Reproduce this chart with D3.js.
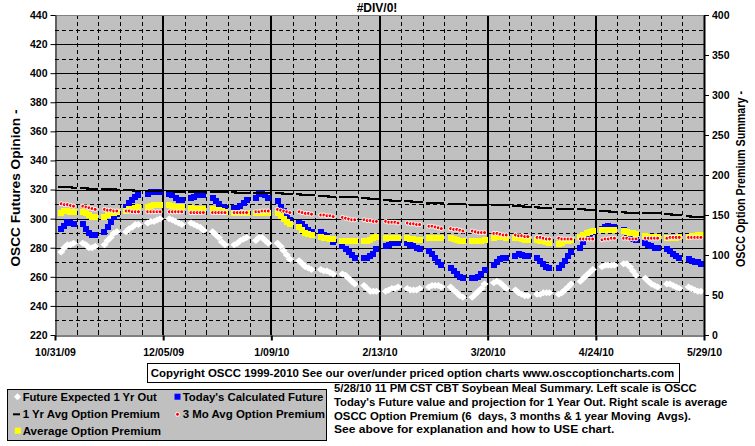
<!DOCTYPE html>
<html><head><meta charset="utf-8">
<script src="https://cdn.jsdelivr.net/npm/d3@7"></script>
<style>
body{margin:0;background:#fff}
svg{display:block}
text{font-family:Arial,"Liberation Sans",sans-serif;font-weight:bold;fill:#000}
</style>
</head><body>
<svg id="c" width="755" height="446"></svg>
<script>
// ---------- data ----------
const title = "#DIV/0!";
const xTickLabels = ["10/31/09","12/05/09","1/09/10","2/13/10","3/20/10","4/24/10","5/29/10"];
const leftTicks = [220,240,260,280,300,320,340,360,380,400,420,440];
const rightTicks = [0,50,100,150,200,250,300,350,400];
const leftTitle = "OSCC Futures Opinion -";
const rightTitle = "OSCC Option Premium Summary -";
const firstTradingDay = "11/02/09"; // Monday; trading days Mon-Fri, one row per week below

// Future Expected 1 Yr Out (left scale)
const futureExpected = [
 277,280,282,282,283, 283,282,280,280,281, 282,285,287,290,291, 291,293,294,296,296,
 297,298,298,299,300, 300,299,298,297,296, 297,296,295,294,292, 291,289,287,284,282,
 282,283,285,286,287, 285,287,287,285,283, 283,281,278,275,272, 271,269,267,266,265,
 265,264,264,263,262, 262,261,259,257,255, 254,252,250,250,250, 250,251,252,252,253,
 252,251,251,251,252, 253,254,254,254,253, 253,251,249,247,246, 246,248,250,252,255,
 256,257,256,254,252, 251,249,248,247,247, 248,248,249,249,249, 248,249,251,253,255,
 257,259,261,263,265, 267,268,268,268,268, 269,269,267,264,261, 259,257,255,254,253,
 255,255,254,253,252, 253,252,251,250,250
];
// Today's Calculated Future (left scale)
const todaysFuture = [
 293,295,298,297,296, 296,293,290,289,289, 291,294,298,301,303, 308,311,313,315,316,
 317,318,318,318,318, 317,316,314,313,313, 314,315,316,316,316, 314,312,310,308,307,
 307,307,309,311,313, 314,317,317,316,314, 312,308,305,302,299, 297,296,294,292,291,
 291,289,288,286,284, 281,279,277,275,273, 273,273,274,276,279, 281,282,283,283,283,
 283,282,281,280,279, 278,276,273,270,268, 266,264,262,260,259, 259,259,260,262,265,
 268,270,272,273,273, 274,276,275,274,274, 273,271,269,267,266, 266,268,271,274,277,
 280,284,287,289,291, 293,294,295,294,294, 292,290,288,286,285, 283,282,281,280,280,
 279,278,276,274,273, 272,271,270,270,269
];
// 1 Yr Avg Option Premium (right scale)
const oneYrAvg = [
 185,185,185,185,184, 184,184,183,183,183, 182,182,182,182,181, 181,181,181,180,180,
 180,180,180,180,180, 180,180,179,179,179, 179,179,179,179,179, 179,179,179,179,179,
 179,178,178,177,177, 177,177,177,177,177, 177,177,176,176,176, 176,175,175,175,175,
 174,174,174,173,173, 173,173,172,172,172, 171,171,170,170,170, 169,169,168,168,168,
 167,167,166,166,166, 165,165,165,165,165, 164,164,164,164,164, 163,163,163,163,163,
 162,162,162,162,162, 161,161,161,160,160, 160,159,159,159,159, 158,158,158,158,157,
 157,157,156,156,156, 155,155,155,154,154, 154,153,153,153,153, 152,152,152,152,152,
 151,151,150,150,150, 149,148,148,147,147
];
// 3 Mo Avg Option Premium (right scale)
const threeMoAvg = [
 164,163,163,162,161, 161,160,159,158,157, 157,156,156,155,155, 155,155,154,154,154,
 154,154,154,154,154, 154,154,154,154,154, 153,153,153,153,153, 153,153,153,153,153,
 153,153,153,153,153, 154,154,155,155,155, 157,156,155,154,153, 154,153,152,152,151,
 150,150,149,149,148, 147,146,145,144,144, 144,143,143,142,142, 142,141,141,141,140,
 140,139,139,138,138, 136,136,135,134,133, 133,132,132,131,130, 130,129,128,128,128,
 127,127,126,125,125, 125,124,124,123,123, 122,122,121,120,120, 121,120,120,120,120,
 120,120,120,120,120, 119,120,120,121,121, 121,121,120,120,120, 121,121,121,121,121,
 121,122,122,122,122, 122,122,122,122,122
];
// Average Option Premium (right scale)
const avgPremium = [
 153,155,155,154,154, 154,152,150,148,148, 148,150,152,153,154, 155,157,158,159,160,
 160,161,162,162,162, 162,161,160,160,160, 159,158,158,158,158, 157,156,156,155,154,
 152,152,152,152,152, 153,153,154,153,153, 152,149,145,141,139, 135,131,128,126,125,
 122,121,121,120,120, 118,117,117,117,117, 117,118,119,121,122, 121,121,121,121,121,
 121,120,120,119,119, 121,121,121,121,121, 121,120,119,118,118, 117,117,117,118,119,
 121,123,123,122,121, 121,121,120,119,119, 119,118,117,116,115, 114,115,117,118,119,
 122,125,128,129,130, 131,131,131,131,131, 130,129,128,127,126, 124,123,123,123,123,
 121,121,121,121,122, 123,124,124,125,125
];

const legendItems = [
 {label:"Future Expected 1 Yr Out", key:"white"},
 {label:"Today's Calculated Future", key:"blue"},
 {label:"1 Yr Avg Option Premium", key:"black"},
 {label:"3 Mo Avg Option Premium", key:"red"},
 {label:"Average Option Premium", key:"yellow"}
];
const copyrightText = "Copyright OSCC 1999-2010 See our over/under priced option charts www.osccoptioncharts.com";
const noteLines = [
 "5/28/10 11 PM CST CBT Soybean Meal Summary. Left scale is OSCC",
 "Today's Future value and projection for 1 Year Out. Right scale is average",
 "OSCC Option Premium (6  days, 3 months & 1 year Moving  Avgs).",
 "See above for explanation and how to USE chart."
];

// ---------- chart ----------
const svg = d3.select("#c");
const L = 55, R = 704, T = 15, B = 335;
const parse = d3.utcParse("%m/%d/%y");
const fmt = d3.utcFormat("%-m/%d/%y");
const majorDates = xTickLabels.map(parse);
const x = d3.scaleUtc().domain([majorDates[0], majorDates[majorDates.length-1]]).range([L, R]);
const yL = d3.scaleLinear().domain([220, 440]).range([B, T]);
const yR = d3.scaleLinear().domain([0, 400]).range([B, T]);

const start = parse(firstTradingDay);
const dates = [];
for (let w = 0; w < futureExpected.length / 5; w++)
  for (let d = 0; d < 5; d++) dates.push(d3.utcDay.offset(start, w * 7 + d));

svg.append("rect").attr("x", L).attr("y", T).attr("width", R - L).attr("height", B - T).attr("fill", "#c0c0c0");

// horizontal grid
const g = svg.append("g");
d3.range(230, 440, 10).forEach(v => {
  const yy = Math.round(yL(v)) + 0.5;
  g.append("line").attr("x1", L).attr("x2", R).attr("y1", yy).attr("y2", yy)
    .attr("stroke", "#000").attr("stroke-width", 1)
    .attr("stroke-dasharray", v % 20 === 0 ? null : "4,3");
});
// vertical grid
const weeks = d3.utcSaturday.range(majorDates[0], majorDates[majorDates.length-1]);
const majorSet = new Set(majorDates.map(d => +d));
weeks.forEach(d => {
  if (+d === +majorDates[0]) return;
  const xx = Math.round(x(d));
  if (majorSet.has(+d)) {
    g.append("line").attr("x1", xx).attr("x2", xx).attr("y1", T).attr("y2", B)
      .attr("stroke", "#000").attr("stroke-width", 2);
  } else {
    g.append("line").attr("x1", xx + 0.5).attr("x2", xx + 0.5).attr("y1", T).attr("y2", B)
      .attr("stroke", "#000").attr("stroke-width", 1).attr("stroke-dasharray", "4,3");
  }
});
// top border
svg.append("line").attr("x1", L).attr("x2", R).attr("y1", T + 0.5).attr("y2", T + 0.5).attr("stroke", "#808080");

// series
const plot = svg.append("g");
const idx = d3.range(dates.length);
// white diamonds
plot.selectAll(".w").data(idx).join("path")
  .attr("d", i => { const cx = x(dates[i]), cy = yL(futureExpected[i]);
    return `M${cx},${cy-3.5}L${cx+4},${cy}L${cx},${cy+3.5}L${cx-4},${cy}Z`; })
  .attr("fill", "#fff");
// blue squares
plot.selectAll(".b").data(idx).join("rect")
  .attr("x", i => Math.round(x(dates[i]) - 3)).attr("y", i => Math.round(yL(todaysFuture[i]) - 3))
  .attr("width", 6).attr("height", 6).attr("fill", "#0000ff");
// yellow squares
plot.selectAll(".y").data(idx).join("rect")
  .attr("x", i => Math.round(x(dates[i]) - 3)).attr("y", i => Math.round(yR(avgPremium[i]) - 3))
  .attr("width", 6).attr("height", 6).attr("fill", "#ffff00");
// black dashes
plot.selectAll(".k").data(idx).join("rect")
  .attr("x", i => Math.round(x(dates[i]) - 3)).attr("y", i => Math.round(yR(oneYrAvg[i]) - 1))
  .attr("width", 6).attr("height", 2).attr("fill", "#000");
// red dots
plot.selectAll(".r").data(idx).join("circle")
  .attr("cx", i => x(dates[i])).attr("cy", i => yR(threeMoAvg[i])).attr("r", 2)
  .attr("fill", "#ff0000").attr("stroke", "#fff").attr("stroke-width", 1);

// axes
const axL = svg.append("g").attr("transform", `translate(${L + 0.5},0)`)
  .call(d3.axisLeft(yL).tickValues(leftTicks).tickSize(5).tickSizeOuter(0).tickPadding(3));
const axR = svg.append("g").attr("transform", `translate(${R},0)`)
  .call(d3.axisRight(yR).tickValues(rightTicks).tickSize(5).tickSizeOuter(0).tickPadding(3));
const axB = svg.append("g").attr("transform", `translate(0,${B + 0.5})`)
  .call(d3.axisBottom(x).tickValues(majorDates).tickFormat(fmt).tickSize(5).tickSizeOuter(0).tickPadding(8));
[axL, axR, axB].forEach(a => {
  a.selectAll("text").attr("font-size", 10.5).attr("font-family", "Arial, 'Liberation Sans', sans-serif").attr("font-weight", "bold").attr("fill", "#000");
  a.selectAll("line").attr("stroke", "#000");
  a.select(".domain").attr("stroke", "#000");
});
axR.select(".domain").attr("stroke-width", 2);
axR.selectAll(".tick line").attr("stroke-width", 1);
axB.selectAll(".tick line").attr("stroke-width", 2);
// minor x ticks (inside)
weeks.forEach(d => {
  if (majorSet.has(+d)) return;
  const xx = Math.round(x(d)) + 0.5;
  svg.append("line").attr("x1", xx).attr("x2", xx).attr("y1", B).attr("y2", B - 3).attr("stroke", "#000");
});

// titles
svg.append("text").attr("x", 377).attr("y", 12).attr("text-anchor", "middle")
  .attr("font-size", 12).text(title);
svg.append("text").attr("transform", "translate(20,188) rotate(-90)").attr("text-anchor", "middle")
  .attr("font-size", 12).attr("textLength", 157).attr("lengthAdjust", "spacingAndGlyphs").text(leftTitle);
svg.append("text").attr("transform", "translate(745,179) rotate(-90)").attr("text-anchor", "middle")
  .attr("font-size", 12).attr("textLength", 176).attr("lengthAdjust", "spacingAndGlyphs").text(rightTitle);

// copyright box
svg.append("rect").attr("x", 147.5).attr("y", 363.5).attr("width", 532).attr("height", 19)
  .attr("fill", "#fff").attr("stroke", "#000");
svg.append("text").attr("x", 150.7).attr("y", 376.5).attr("font-size", 11.5)
  .attr("textLength", 523.6).attr("lengthAdjust", "spacingAndGlyphs").text(copyrightText);

// legend
svg.append("rect").attr("x", 7.5).attr("y", 389.5).attr("width", 319).attr("height", 51)
  .attr("fill", "#c0c0c0").attr("stroke", "#000");
const legPos = [
  {mx:17.5, tx:22.7, y:396.7, w:134},
  {mx:177.5, tx:182.7, y:396.7, w:140.7},
  {mx:17, tx:22.7, y:414.3, w:137.3},
  {mx:177.5, tx:182.7, y:414.3, w:142.3},
  {mx:17.8, tx:22.7, y:430.7, w:138.3}
];
const lg = svg.append("g");
legendItems.forEach((it, i) => {
  const p = legPos[i];
  if (it.key === "white") lg.append("path").attr("d", `M${p.mx},${p.y-3.5}L${p.mx+3.5},${p.y}L${p.mx},${p.y+3.5}L${p.mx-3.5},${p.y}Z`).attr("fill", "#fff");
  if (it.key === "blue") lg.append("rect").attr("x", p.mx - 3).attr("y", p.y - 3).attr("width", 6).attr("height", 6).attr("fill", "#0000ff");
  if (it.key === "black") lg.append("rect").attr("x", p.mx - 4).attr("y", p.y - 1).attr("width", 7).attr("height", 2).attr("fill", "#000");
  if (it.key === "red") lg.append("circle").attr("cx", p.mx).attr("cy", p.y).attr("r", 2).attr("fill", "#ff0000").attr("stroke", "#fff");
  if (it.key === "yellow") lg.append("rect").attr("x", p.mx - 3).attr("y", p.y - 3).attr("width", 6).attr("height", 6).attr("fill", "#ffff00");
  lg.append("text").attr("x", p.tx).attr("y", p.y + 4).attr("font-size", 11)
    .attr("textLength", p.w).attr("lengthAdjust", "spacingAndGlyphs").text(it.label);
});

// notes
const noteY = [388.3, 402.3, 416, 429];
const noteW = [362.7, 393.3, 357, 280.3];
noteLines.forEach((t, i) => {
  svg.append("text").attr("x", 334).attr("y", noteY[i] + 4).attr("font-size", 10.8)
    .attr("textLength", noteW[i]).attr("lengthAdjust", "spacingAndGlyphs")
    .attr("style", "white-space:pre").text(t);
});
</script>
</body></html>
